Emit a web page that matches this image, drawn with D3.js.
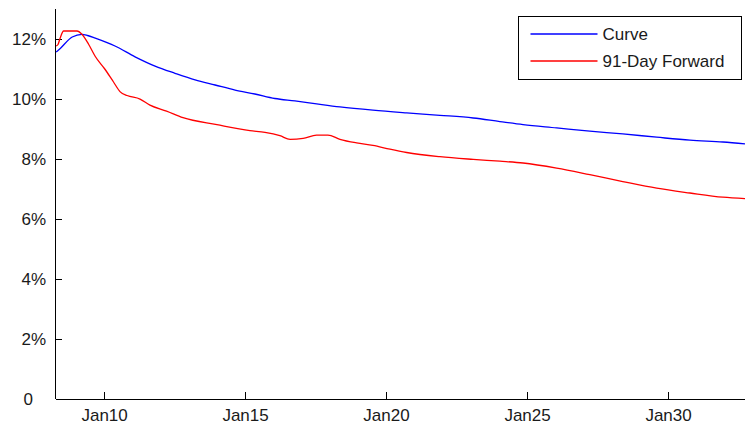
<!DOCTYPE html>
<html lang="en">
<meta charset="utf-8"/>
<head>
<style>
	body { margin: 0; background-color: #FFFFFF; }
	svg { display: block; }
	text { font-family: "Liberation Sans", Arial, sans-serif; font-size: 17px; fill: #1a1a1a; }
	.axis path, .axis line { stroke: #000; stroke-width: 1; shape-rendering: crispEdges; }
	.series { fill: none; stroke-width: 1.3; }
</style>
</head>
<body>
<svg id="chart" width="745" height="423"></svg>

<script src="https://d3js.org/d3.v7.min.js"></script>
<script>
// tick labels on the x axis
let xTickDates = ["2010-01-01", "2015-01-01", "2020-01-01", "2025-01-01", "2030-01-01"]
let yTickValues = [0, 2, 4, 6, 8, 10, 12]

// "Curve" series
let curveDates = ["2008-04-19", "2008-05-14", "2008-11-14", "2009-03-20", "2009-06-01", "2009-09-09",
	"2010-05-22", "2011-02-06", "2011-10-23", "2012-07-08", "2013-03-25", "2013-12-09", "2014-08-25",
	"2015-05-08", "2016-01-22", "2016-10-08", "2017-05-29", "2018-05-14", "2019-07-15", "2020-09-24",
	"2021-11-29", "2023-02-03", "2024-01-15", "2024-11-10", "2026-01-19", "2027-03-25", "2028-05-25",
	"2029-08-07", "2030-10-12", "2031-12-13", "2032-09-24"]
let curveValues = [11.55, 11.6, 12.05, 12.14, 12.1, 12.01,
	11.75, 11.39, 11.08, 10.84, 10.62, 10.45, 10.28,
	10.15, 10.0, 9.92, 9.84, 9.72, 9.61, 9.52,
	9.44, 9.35, 9.23, 9.13, 9.02, 8.91, 8.82,
	8.71, 8.61, 8.55, 8.49]

// "91-Day Forward" series
let fwdDates = ["2008-04-19", "2008-05-14", "2008-06-09", "2008-07-26", "2009-01-15", "2009-03-20",
	"2009-06-16", "2009-09-09", "2010-01-05", "2010-05-03", "2010-07-29", "2010-10-26", "2011-04-11",
	"2011-08-18", "2012-03-20", "2012-10-19", "2014-01-01", "2015-03-05", "2015-09-16", "2016-03-27",
	"2016-08-07", "2017-01-22", "2017-07-15", "2017-12-09", "2018-05-14", "2018-12-16", "2019-07-15",
	"2020-02-21", "2020-09-24", "2021-11-29", "2023-02-03", "2024-01-15", "2024-11-10", "2026-01-19",
	"2027-03-25", "2028-05-25", "2029-08-07", "2030-10-12", "2031-12-13", "2032-09-24"]
let fwdValues = [11.75, 11.8, 12.0, 12.25, 12.25, 12.14,
	11.8, 11.4, 11.0, 10.55, 10.22, 10.1, 9.98,
	9.78, 9.58, 9.36, 9.13, 8.93, 8.87, 8.76,
	8.64, 8.67, 8.78, 8.78, 8.64, 8.52, 8.44,
	8.31, 8.2, 8.06, 7.97, 7.91, 7.85, 7.68,
	7.46, 7.23, 7.01, 6.85, 6.71, 6.66]

let seriesNames = ["Curve", "91-Day Forward"]
let seriesColors = ["#0000FF", "#FF0000"]

let svg = d3.select("#chart")
let padLeft = 55, padRight = 745, padTop = 8.5, padBottom = 398.5
let parse = d3.timeParse("%Y-%m-%d")

let xScale = d3.scaleTime()
	.domain([parse("2008-04-05"), parse("2032-09-24")])
	.range([padLeft, padRight])

let yScale = d3.scaleLinear()
	.domain([0, 13])
	.range([padBottom, padTop])

// x axis, ticks pointing inward
let xAxis = svg.append("g")
	.attr("class", "axis")
	.attr("transform", "translate(0," + padBottom + ")")
	.call(d3.axisBottom(xScale)
		.tickValues(xTickDates.map(parse))
		.tickSize(-7)
		.tickSizeOuter(0)
		.tickFormat(d3.timeFormat("Jan%y")))
xAxis.selectAll("text").attr("y", 22).attr("dy", 0)

let yAxis = svg.append("g")
	.attr("class", "axis")
	.attr("transform", "translate(" + padLeft + ",0)")
	.call(d3.axisLeft(yScale)
		.tickValues(yTickValues)
		.tickSize(-7)
		.tickSizeOuter(0)
		.tickFormat(d => d == 0 ? "0" : d + "%"))
yAxis.selectAll("text").attr("x", d => d == 0 ? -22 : -9).attr("dy", "0.36em")
yAxis.selectAll(".tick").filter(d => d == 0).select("line").remove()
svg.selectAll(".axis text").attr("fill", "#1a1a1a")

let line = d3.line()
	.x(d => xScale(d[0]))
	.y(d => yScale(d[1]))
	.curve(d3.curveMonotoneX)

let series = [
	curveDates.map((d, i) => [parse(d), curveValues[i]]),
	fwdDates.map((d, i) => [parse(d), fwdValues[i]])
]

svg.selectAll(".series")
	.data(series)
	.enter()
	.append("path")
	.attr("class", "series")
	.attr("stroke", (d, i) => seriesColors[i])
	.attr("d", line)

// legend box
let legend = svg.append("g").attr("transform", "translate(518.5,16.5)")
legend.append("rect")
	.attr("width", 223)
	.attr("height", 63)
	.attr("fill", "#fff")
	.attr("stroke", "#000")
	.attr("stroke-width", 1)
let item = legend.selectAll(".item")
	.data(seriesNames)
	.enter()
	.append("g")
	.attr("transform", (d, i) => "translate(0," + (17.5 + i * 27) + ")")
item.append("line")
	.attr("x1", 12).attr("x2", 79)
	.attr("stroke", (d, i) => seriesColors[i])
	.attr("stroke-width", 1.3)
item.append("text")
	.attr("x", 84)
	.attr("y", 6.3)
	.text(d => d)
</script>
</body>
</html>
